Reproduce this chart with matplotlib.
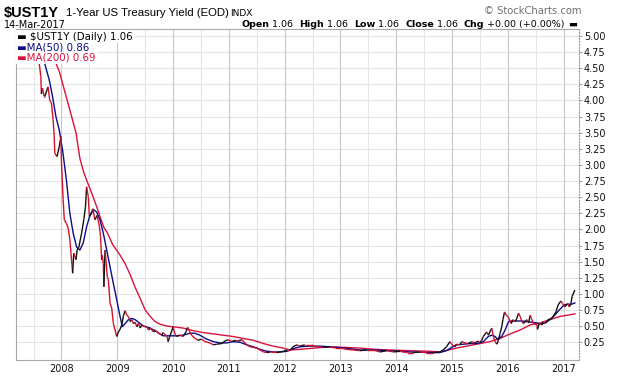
import matplotlib
matplotlib.use('Agg')
import matplotlib.pyplot as plt
from matplotlib.collections import LineCollection

# $UST1Y daily close (decimal year, yield %)
price_t = [2007.19, 2007.30, 2007.40, 2007.50, 2007.55, 2007.60, 2007.63, 2007.64, 2007.66, 2007.69,
           2007.70, 2007.76, 2007.79, 2007.82, 2007.85, 2007.87, 2007.88, 2007.92, 2007.96, 2007.99,
           2008.00, 2008.03, 2008.05, 2008.09, 2008.12, 2008.15, 2008.17, 2008.20, 2008.22, 2008.26,
           2008.28, 2008.31, 2008.36, 2008.40, 2008.43, 2008.45, 2008.48, 2008.50, 2008.54, 2008.56,
           2008.60, 2008.64, 2008.68, 2008.70, 2008.72, 2008.73, 2008.75, 2008.76, 2008.78, 2008.80,
           2008.82, 2008.84, 2008.87, 2008.90, 2008.93, 2008.96, 2008.99, 2009.02, 2009.05, 2009.08,
           2009.11, 2009.14, 2009.17, 2009.20, 2009.23, 2009.26, 2009.29, 2009.32, 2009.35, 2009.38,
           2009.41, 2009.44, 2009.47, 2009.53, 2009.56, 2009.59, 2009.65, 2009.68, 2009.74, 2009.80,
           2009.82, 2009.89, 2009.91, 2009.94, 2009.97, 2010.00, 2010.03, 2010.06, 2010.12, 2010.18,
           2010.23, 2010.26, 2010.30, 2010.33, 2010.39, 2010.45, 2010.51, 2010.57, 2010.66, 2010.72,
           2010.78, 2010.87, 2010.93, 2010.99, 2011.05, 2011.11, 2011.17, 2011.23, 2011.32, 2011.38,
           2011.44, 2011.50, 2011.56, 2011.62, 2011.68, 2011.74, 2011.86, 2011.98, 2012.04, 2012.10,
           2012.15, 2012.22, 2012.27, 2012.36, 2012.48, 2012.57, 2012.69, 2012.81, 2012.90, 2012.99,
           2013.11, 2013.23, 2013.35, 2013.47, 2013.58, 2013.71, 2013.83, 2013.95, 2014.07, 2014.19,
           2014.30, 2014.42, 2014.54, 2014.66, 2014.78, 2014.84, 2014.90, 2014.96, 2014.99, 2015.05,
           2015.08, 2015.14, 2015.17, 2015.23, 2015.29, 2015.35, 2015.41, 2015.47, 2015.50, 2015.53,
           2015.56, 2015.62, 2015.65, 2015.71, 2015.74, 2015.77, 2015.80, 2015.83, 2015.86, 2015.89,
           2015.91, 2015.94, 2015.97, 2016.00, 2016.06, 2016.09, 2016.13, 2016.16, 2016.19, 2016.22,
           2016.25, 2016.28, 2016.34, 2016.37, 2016.40, 2016.43, 2016.46, 2016.52, 2016.53, 2016.56,
           2016.61, 2016.63, 2016.68, 2016.72, 2016.79, 2016.81, 2016.86, 2016.90, 2016.95, 2016.98,
           2017.02, 2017.07, 2017.10, 2017.13, 2017.15, 2017.20]
price_v = [4.95, 5.00, 4.92, 4.95, 4.85, 4.58, 4.37, 4.10, 4.19, 4.06,
           4.06, 4.21, 4.00, 3.96, 3.70, 3.45, 3.18, 3.13, 3.28, 3.44,
           3.03, 2.46, 2.15, 2.09, 2.02, 1.84, 1.63, 1.32, 1.63, 1.53,
           1.68, 1.72, 1.94, 2.15, 2.35, 2.66, 2.51, 2.20, 2.25, 2.32,
           2.15, 2.22, 2.04, 1.89, 1.53, 1.60, 1.47, 1.11, 1.68, 1.50,
           1.27, 1.22, 0.86, 0.78, 0.54, 0.44, 0.34, 0.41, 0.45, 0.52,
           0.66, 0.74, 0.67, 0.65, 0.57, 0.60, 0.54, 0.56, 0.49, 0.54,
           0.47, 0.52, 0.50, 0.49, 0.44, 0.47, 0.41, 0.44, 0.39, 0.36,
           0.40, 0.34, 0.26, 0.34, 0.41, 0.49, 0.39, 0.34, 0.36, 0.34,
           0.41, 0.48, 0.41, 0.36, 0.31, 0.28, 0.30, 0.26, 0.24, 0.21,
           0.22, 0.23, 0.27, 0.29, 0.26, 0.28, 0.27, 0.29, 0.21, 0.18,
           0.17, 0.16, 0.13, 0.10, 0.09, 0.10, 0.09, 0.11, 0.13, 0.13,
           0.18, 0.21, 0.19, 0.21, 0.21, 0.18, 0.17, 0.18, 0.16, 0.16,
           0.14, 0.13, 0.12, 0.13, 0.13, 0.10, 0.12, 0.10, 0.11, 0.09,
           0.09, 0.10, 0.09, 0.09, 0.10, 0.13, 0.18, 0.26, 0.22, 0.18,
           0.22, 0.21, 0.26, 0.24, 0.23, 0.26, 0.24, 0.27, 0.24, 0.28,
           0.34, 0.41, 0.36, 0.47, 0.34, 0.26, 0.22, 0.28, 0.39, 0.49,
           0.60, 0.72, 0.67, 0.65, 0.54, 0.60, 0.57, 0.62, 0.70, 0.65,
           0.57, 0.54, 0.60, 0.55, 0.67, 0.60, 0.54, 0.52, 0.45, 0.54,
           0.52, 0.57, 0.55, 0.60, 0.62, 0.65, 0.72, 0.83, 0.89, 0.85,
           0.80, 0.85, 0.80, 0.85, 0.96, 1.06]

ma50_t = [2007.19, 2007.40, 2007.60, 2007.69, 2007.78, 2007.84, 2007.90, 2007.96, 2008.02, 2008.09,
          2008.15, 2008.21, 2008.27, 2008.33, 2008.39, 2008.45, 2008.51, 2008.57, 2008.63, 2008.69,
          2008.75, 2008.81, 2008.87, 2008.93, 2008.99, 2009.05, 2009.09, 2009.14, 2009.20, 2009.26,
          2009.32, 2009.41, 2009.47, 2009.59, 2009.71, 2009.82, 2009.94, 2010.06, 2010.18, 2010.30,
          2010.39, 2010.48, 2010.60, 2010.72, 2010.84, 2010.96, 2011.08, 2011.20, 2011.32, 2011.44,
          2011.56, 2011.68, 2011.80, 2011.92, 2012.04, 2012.15, 2012.27, 2012.45, 2012.63, 2012.81,
          2013.08, 2013.35, 2013.62, 2013.88, 2014.24, 2014.60, 2014.78, 2014.90, 2014.99, 2015.08,
          2015.20, 2015.32, 2015.44, 2015.56, 2015.65, 2015.71, 2015.77, 2015.81, 2015.89, 2015.95,
          2016.01, 2016.07, 2016.16, 2016.25, 2016.34, 2016.43, 2016.52, 2016.58, 2016.67, 2016.75,
          2016.84, 2016.93, 2017.01, 2017.08, 2017.14, 2017.20]
ma50_v = [4.98, 4.95, 4.85, 4.60, 4.32, 4.06, 3.75, 3.54, 3.23, 2.75,
          2.25, 1.94, 1.73, 1.68, 1.79, 2.04, 2.22, 2.31, 2.27, 2.15,
          1.94, 1.68, 1.42, 1.16, 0.91, 0.65, 0.49, 0.54, 0.60, 0.62,
          0.60, 0.54, 0.50, 0.47, 0.41, 0.35, 0.35, 0.35, 0.36, 0.39,
          0.39, 0.36, 0.30, 0.26, 0.24, 0.24, 0.26, 0.25, 0.21, 0.18,
          0.14, 0.11, 0.10, 0.10, 0.11, 0.15, 0.18, 0.19, 0.19, 0.18,
          0.16, 0.13, 0.13, 0.12, 0.10, 0.09, 0.09, 0.12, 0.17, 0.21,
          0.22, 0.23, 0.23, 0.26, 0.34, 0.36, 0.34, 0.30, 0.34, 0.44,
          0.57, 0.58, 0.58, 0.58, 0.57, 0.56, 0.55, 0.53, 0.55, 0.60,
          0.67, 0.76, 0.83, 0.84, 0.84, 0.86]

ma200_t = [2007.19, 2007.40, 2007.55, 2007.89, 2007.96, 2008.04, 2008.15, 2008.26, 2008.33, 2008.40,
           2008.47, 2008.56, 2008.64, 2008.69, 2008.76, 2008.82, 2008.92, 2009.05, 2009.14, 2009.23,
           2009.32, 2009.41, 2009.50, 2009.59, 2009.68, 2009.77, 2009.89, 2010.00, 2010.18, 2010.36,
           2010.54, 2010.72, 2010.89, 2011.07, 2011.25, 2011.44, 2011.62, 2011.79, 2011.97, 2012.10,
           2012.27, 2012.54, 2012.81, 2013.08, 2013.35, 2013.62, 2013.88, 2014.24, 2014.60, 2014.78,
           2015.08, 2015.38, 2015.68, 2015.86, 2016.04, 2016.22, 2016.40, 2016.58, 2016.75, 2016.93,
           2017.20]
ma200_v = [5.00, 4.98, 4.85, 4.60, 4.45, 4.20, 3.85, 3.50, 3.10, 2.88,
           2.72, 2.52, 2.33, 2.20, 2.03, 1.95, 1.76, 1.60, 1.47, 1.30,
           1.10, 0.93, 0.75, 0.65, 0.57, 0.53, 0.50, 0.49, 0.47, 0.43,
           0.40, 0.38, 0.36, 0.34, 0.31, 0.28, 0.23, 0.19, 0.16, 0.13,
           0.14, 0.16, 0.18, 0.17, 0.16, 0.14, 0.13, 0.12, 0.11, 0.10,
           0.16, 0.21, 0.26, 0.31, 0.38, 0.44, 0.52, 0.55, 0.60, 0.65,
           0.69]

years = list(range(2008, 2018))
yticks = [0.25 * i for i in range(1, 21)]

W, H = 620, 376
fig = plt.figure(figsize=(W / 100, H / 100), dpi=100)
ax = fig.add_axes([16 / W, 1 - 360 / H, (579 - 16) / W, (360 - 29) / H])
ax.set_xlim(2007.185, 2017.274)
ax.set_ylim(-0.025, 5.107)

# grid: horizontal every .25, vertical at years (darker) and mid-years (lighter)
for v in yticks:
    ax.axhline(v, color='#e4e4e4', lw=0.8, zorder=0)
for y in range(2007, 2018):
    ax.axvline(y + 0.5, color='#e4e4e4', lw=0.8, zorder=0)
    if y >= 2008:
        ax.axvline(y, color='#c8c8c8', lw=0.8, zorder=0)

ax.plot(ma200_t, ma200_v, color='#d8123c', lw=1.0, zorder=2)
ax.plot(ma50_t, ma50_v, color='#0c0c88', lw=1.0, zorder=3)

segs = [[(price_t[i], price_v[i]), (price_t[i + 1], price_v[i + 1])] for i in range(len(price_t) - 1)]
cols = ['#111111' if price_v[i + 1] > price_v[i] else '#d4102c' for i in range(len(price_t) - 1)]
ax.add_collection(LineCollection(segs, colors=cols, linewidths=1.0, zorder=4))

ax.set_yticks(yticks)
ax.set_yticklabels([f'{v:.2f}' for v in yticks])
ax.yaxis.tick_right()
ax.tick_params(axis='y', length=2, width=0.6, color='#888888', pad=1.5, labelsize=7, labelcolor='#111111')
ax.set_xticks(years)
ax.set_xticklabels([str(y) for y in years])
ax.tick_params(axis='x', length=0, pad=3, labelsize=7, labelcolor='#111111')
for s in ['left', 'bottom', 'top']:
    ax.spines[s].set_color('#a8a8a8')
    ax.spines[s].set_linewidth(0.8)
ax.spines['right'].set_color('#999999')
ax.spines['right'].set_linestyle(':')
ax.spines['right'].set_linewidth(0.8)


def px(x, y):
    return x / W, 1 - y / H


# legend rows with white backing
leg = [('▬ $UST1Y (Daily) 1.06', '#000000', 36.5),
       ('▬MA(50) 0.86', '#0c0c88', 47.5),
       ('▬MA(200) 0.69', '#d8123c', 58)]
for txt, c, yy in leg:
    fig.text(*px(17, yy), txt, color=c, fontsize=7.4, va='center', ha='left', zorder=10,
             bbox=dict(facecolor='white', edgecolor='none', pad=0.8))

# header
fig.text(*px(4, 17), '$UST1Y', fontsize=10.5, fontweight='bold', family='Liberation Sans', va='baseline')
fig.text(*px(66, 16), '1-Year US Treasury Yield (EOD)', fontsize=8.2, family='Liberation Sans', va='baseline')
fig.text(*px(230, 16), 'INDX', fontsize=6.5, va='baseline')
fig.text(*px(582, 14), '© StockCharts.com', fontsize=7.2, color='#707070', va='baseline', ha='right')
fig.text(*px(4, 28), '14-Mar-2017', fontsize=7, va='baseline')

renderer = fig.canvas.get_renderer()
pieces = [('Open', True), (' 1.06  ', False), ('High', True), (' 1.06  ', False), ('Low', True),
          (' 1.06  ', False), ('Close', True), (' 1.06  ', False), ('Chg', True), (' +0.00 (+0.00%) ', False),
          ('▬', True)]
xr = 577
for txt, bold in reversed(pieces):
    t = fig.text(*px(xr, 27), txt, fontsize=6.8, fontweight='bold' if bold else 'normal',
                 va='baseline', ha='right')
    xr -= t.get_window_extent(renderer).width

fig.savefig('out.png', dpi=100)
